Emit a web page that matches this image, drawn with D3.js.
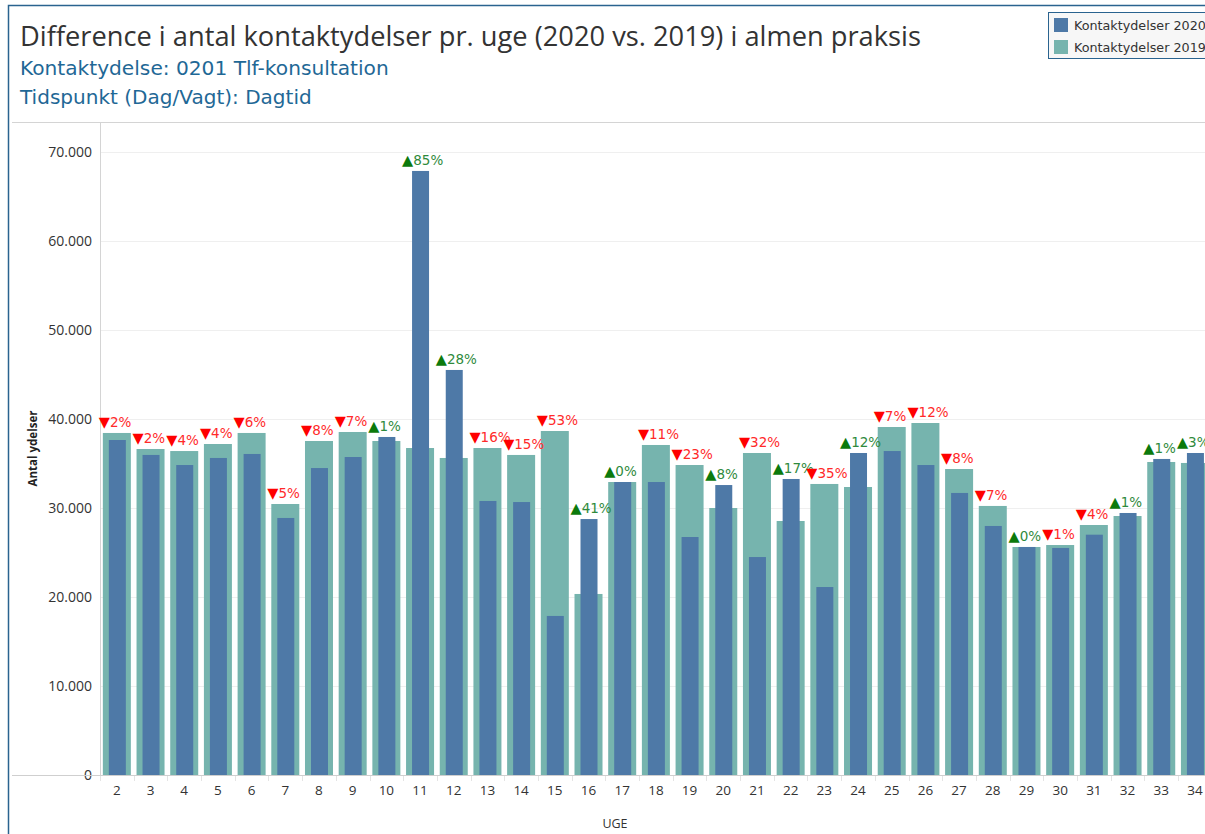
<!DOCTYPE html>
<html>
<head>
<meta charset="utf-8">
<script src="https://cdn.jsdelivr.net/npm/d3@7"></script>
<style>
  html, body { margin: 0; padding: 0; background: #fff; overflow: hidden; }
  svg { display: block; font-family: "Open Sans", "Noto Sans", sans-serif; }
  .pct { font-family: "DejaVu Sans", Verdana, sans-serif; font-size: 13.5px; }
  .pct .arrow { font-size: 14.5px; }
</style>
</head>
<body>
<div id="chart"></div>
<script>
const weeks = [2, 3, 4, 5, 6, 7, 8, 9, 10, 11, 12, 13, 14, 15, 16, 17, 18, 19, 20, 21, 22, 23, 24, 25, 26, 27, 28, 29, 30, 31, 32, 33, 34];
const ydelser2019 = [38430, 36630, 36400, 37190, 38430, 30450, 37530, 38540, 37530, 36740, 35620, 36740, 35960, 38650, 20340, 32920, 37080, 34830, 30000, 36180, 28540, 32700, 32360, 39100, 39550, 34380, 30230, 25620, 25840, 28090, 29100, 35170, 35060];
const ydelser2020 = [37640, 35960, 34830, 35620, 36070, 28880, 34490, 35730, 37980, 67870, 45510, 30790, 30670, 17870, 28760, 32920, 32920, 26740, 32580, 24490, 33260, 21120, 36180, 36400, 34830, 31690, 27980, 25620, 25510, 27000, 29440, 35510, 36180];
const changePct = [-2, -2, -4, -4, -6, -5, -8, -7, 1, 85, 28, -16, -15, -53, 41, 0, -11, -23, 8, -32, 17, -35, 12, -7, -12, -8, -7, 0, -1, -4, 1, 1, 3];
const yTicks = [0, 10000, 20000, 30000, 40000, 50000, 60000, 70000];

const width = 1205;
const height = 834;
const blue = '#4e79a7';
const teal = '#76b4ae';
const frameColour = '#2a638f';
const wideFont = '"DejaVu Sans", Verdana, sans-serif';

const svg = d3.select('#chart').append('svg')
  .attr('width', width)
  .attr('height', height);

// scale a text's font so it spans the width seen in the chart
function fitWidth(sel, target) {
  const size = parseFloat(sel.attr('font-size'));
  const len = sel.node().getComputedTextLength();
  sel.attr('font-size', (size * target / len).toFixed(2));
  return sel;
}

// outer frame
svg.append('path')
  .attr('d', `M8.5,${height} V5.5 H${width}`)
  .attr('fill', 'none')
  .attr('stroke', frameColour)
  .attr('stroke-width', 1.5);

// titles
fitWidth(svg.append('text')
  .attr('x', 20).attr('y', 46)
  .attr('font-size', 26)
  .attr('fill', '#333')
  .text('Difference i antal kontaktydelser pr. uge (2020 vs. 2019) i almen praksis'), 901);

fitWidth(svg.append('text')
  .attr('x', 20).attr('y', 75)
  .attr('font-family', wideFont)
  .attr('font-size', 17)
  .attr('fill', '#1f6896')
  .text('Kontaktydelse: 0201 Tlf-konsultation'), 369);

fitWidth(svg.append('text')
  .attr('x', 20).attr('y', 104)
  .attr('font-family', wideFont)
  .attr('font-size', 17)
  .attr('fill', '#1f6896')
  .text('Tidspunkt (Dag/Vagt): Dagtid'), 292);

// legend
const legend = svg.append('g');
legend.append('rect')
  .attr('x', 1048.5).attr('y', 12.5)
  .attr('width', 170).attr('height', 46)
  .attr('fill', '#f7f7f7')
  .attr('stroke', frameColour)
  .attr('stroke-width', 1);
[['Kontaktydelser 2020', blue], ['Kontaktydelser 2019', teal]].forEach(([label, c], i) => {
  legend.append('rect')
    .attr('x', 1054).attr('y', 18 + i * 22)
    .attr('width', 14).attr('height', 14)
    .attr('fill', c);
  fitWidth(legend.append('text')
    .attr('x', 1074).attr('y', 30 + i * 22)
    .attr('font-family', wideFont)
    .attr('font-size', 11.5)
    .attr('fill', '#333')
    .text(label), 132);
});

// plot area
const plotLeft = 100;
const plotTop = 122;
const y0 = 775;

const x = d3.scaleBand()
  .domain(weeks)
  .range([plotLeft, plotLeft + weeks.length * 33.69])
  .paddingInner(0)
  .paddingOuter(0);

const y = d3.scaleLinear()
  .domain([0, 70000])
  .range([y0, 152]);

svg.append('line')
  .attr('x1', 12).attr('x2', width)
  .attr('y1', plotTop + 0.5).attr('y2', plotTop + 0.5)
  .attr('stroke', '#d4d4d4');

// gridlines
svg.append('g')
  .selectAll('line')
  .data(yTicks.filter(d => d > 0))
  .join('line')
  .attr('x1', plotLeft).attr('x2', width)
  .attr('y1', d => Math.round(y(d)) + 0.5)
  .attr('y2', d => Math.round(y(d)) + 0.5)
  .attr('stroke', '#efefef');

// y axis
const yAxis = svg.append('g')
  .attr('transform', `translate(${plotLeft},0)`)
  .call(d3.axisLeft(y)
    .tickValues(yTicks)
    .tickSize(0)
    .tickPadding(8)
    .tickFormat(d => d3.format(',')(d).replace(/,/g, '.')));
yAxis.select('.domain').remove();
yAxis.selectAll('text')
  .attr('font-family', '"Open Sans", sans-serif')
  .attr('font-size', 14)
  .attr('fill', '#333');

svg.append('line')
  .attr('x1', plotLeft + 0.5).attr('x2', plotLeft + 0.5)
  .attr('y1', plotTop).attr('y2', y0 + 1)
  .attr('stroke', '#d4d4d4');

svg.append('text')
  .attr('transform', `translate(37,${(plotTop + y0) / 2}) rotate(-90)`)
  .attr('text-anchor', 'middle')
  .attr('font-size', 11.5)
  .attr('font-weight', 'bold')
  .attr('fill', '#222')
  .text('Antal ydelser');

// bars
const rows = weeks.map((w, i) => ({
  week: w,
  v19: ydelser2019[i],
  v20: ydelser2020[i],
  pct: changePct[i]
}));

const cx = d => x(d.week) + x.bandwidth() / 2;

svg.append('g')
  .selectAll('rect')
  .data(rows)
  .join('rect')
  .attr('x', d => cx(d) - 14)
  .attr('width', 28)
  .attr('y', d => y(d.v19))
  .attr('height', d => y0 - y(d.v19))
  .attr('fill', teal);

svg.append('g')
  .selectAll('rect')
  .data(rows)
  .join('rect')
  .attr('x', d => cx(d) - 8)
  .attr('width', 17)
  .attr('y', d => y(d.v20))
  .attr('height', d => y0 - y(d.v20))
  .attr('fill', blue);

// x axis
svg.append('line')
  .attr('x1', 12).attr('x2', width)
  .attr('y1', y0 + 0.5).attr('y2', y0 + 0.5)
  .attr('stroke', '#cfcfcf');

svg.append('g')
  .selectAll('line')
  .data(weeks)
  .join('line')
  .attr('x1', d => Math.round(x(d)) + 0.5)
  .attr('x2', d => Math.round(x(d)) + 0.5)
  .attr('y1', y0 + 1).attr('y2', y0 + 6)
  .attr('stroke', '#e4e4e4');

svg.append('g')
  .selectAll('text')
  .data(weeks)
  .join('text')
  .attr('x', d => x(d) + x.bandwidth() / 2)
  .attr('y', 795)
  .attr('text-anchor', 'middle')
  .attr('font-size', 13.5)
  .attr('fill', '#333')
  .text(d => d);

svg.append('text')
  .attr('x', 615).attr('y', 828)
  .attr('text-anchor', 'middle')
  .attr('font-size', 12.5)
  .attr('fill', '#333')
  .text('UGE');

// change labels
const labels = svg.append('g')
  .selectAll('text')
  .data(rows)
  .join('text')
  .attr('class', 'pct')
  .attr('x', d => cx(d) - 18)
  .attr('y', d => y(Math.max(d.v19, d.v20)) - 6);

labels.append('tspan')
  .attr('class', 'arrow')
  .attr('fill', d => d.pct >= 0 ? '#0c7a0c' : '#ff0000')
  .text(d => d.pct >= 0 ? '\u25B2' : '\u25BC');

labels.append('tspan')
  .attr('fill', d => d.pct >= 0 ? '#2f8a3c' : '#ff2a2a')
  .text(d => Math.abs(d.pct) + '%');
</script>
</body>
</html>
